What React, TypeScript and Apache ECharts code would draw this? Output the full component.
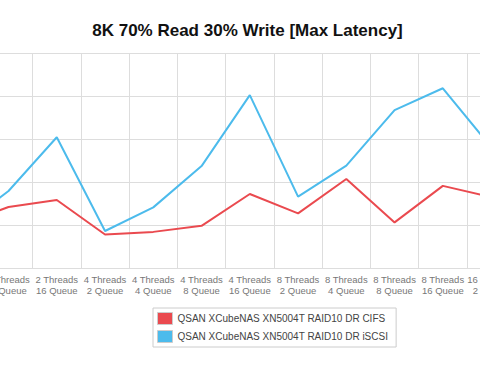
import React, { useEffect, useRef } from "react";
import * as echarts from "echarts";

const categories = [
  "2 Threads\n4 Queue",
  "2 Threads\n8 Queue",
  "2 Threads\n16 Queue",
  "4 Threads\n2 Queue",
  "4 Threads\n4 Queue",
  "4 Threads\n8 Queue",
  "4 Threads\n16 Queue",
  "8 Threads\n2 Queue",
  "8 Threads\n4 Queue",
  "8 Threads\n8 Queue",
  "8 Threads\n16 Queue",
  "16 Threads\n2 Queue",
];

const cifsValues = [10.0, 14.2, 15.8, 7.8, 8.4, 9.8, 17.2, 12.7, 20.7, 10.6, 19.1, 16.5];
const iscsiValues = [9.5, 17.9, 30.4, 8.6, 14.1, 23.7, 40.2, 16.6, 23.8, 36.7, 41.8, 28.1];

const seriesNames = [
  "QSAN XCubeNAS XN5004T RAID10 DR CIFS",
  "QSAN XCubeNAS XN5004T RAID10 DR iSCSI",
];

const titleText = "8K 70% Read 30% Write [Max Latency]";

const OFFSET = 64;

export default function App() {
  const ref = useRef<HTMLDivElement>(null);
  useEffect(() => {
    if (!ref.current) return;
    const chart = echarts.init(ref.current, undefined, { renderer: "svg" });
    const font = "'Liberation Sans', Arial, Helvetica, sans-serif";
    chart.setOption({
      animation: false,
      color: ["#ea4a4f", "#4cbbec"],
      textStyle: { fontFamily: font },
      title: {
        text: titleText,
        left: 247.5 - 5 + OFFSET,
        top: 17,
        textAlign: "center",
        textStyle: { fontSize: 17, fontWeight: "bold", color: "#111", fontFamily: font },
      },
      legend: {
        orient: "vertical",
        left: 153 + OFFSET,
        top: 308,
        borderColor: "#cccccc",
        borderWidth: 1,
        padding: [4, 8, 4, 4],
        itemGap: 5,
        itemWidth: 15,
        itemHeight: 12,
        icon: "rect",
        itemStyle: { borderColor: "#cccccc", borderWidth: 1 },
        textStyle: { fontSize: 10, color: "#444", fontFamily: font },
        data: seriesNames,
      },
      grid: {
        left: 0,
        right: 0,
        top: 53,
        bottom: 106,
        containLabel: false,
      },
      xAxis: {
        type: "category",
        data: categories,
        boundaryGap: true,
        axisLine: { show: true, lineStyle: { color: "#dddddd" } },
        axisTick: { show: false },
        splitLine: { show: true, lineStyle: { color: "#dddddd", width: 1 } },
        axisLabel: {
          interval: 0,
          color: "#777",
          fontSize: 9.5,
          lineHeight: 11,
          margin: 6,
          fontFamily: font,
        },
      },
      yAxis: {
        type: "value",
        min: 0,
        max: 50,
        interval: 10,
        axisLabel: { show: false },
        axisLine: { show: false },
        axisTick: { show: false },
        splitLine: { show: true, lineStyle: { color: "#dddddd", width: 1 } },
      },
      series: [
        {
          name: seriesNames[0],
          type: "line",
          data: cifsValues,
          symbol: "none",
          lineStyle: { width: 2 },
        },
        {
          name: seriesNames[1],
          type: "line",
          data: iscsiValues,
          symbol: "none",
          lineStyle: { width: 2 },
        },
      ],
    });
    return () => chart.dispose();
  }, []);
  return (
    <div style={{ position: "absolute", left: 0, top: 0, width: 480, height: 374, overflow: "hidden", background: "#fff" }}>
      <div style={{ position: "absolute", left: -OFFSET, top: 0, width: 582, height: 374 }}>
        <div ref={ref} style={{ width: 582, height: 374 }} />
      </div>
    </div>
  );
}
